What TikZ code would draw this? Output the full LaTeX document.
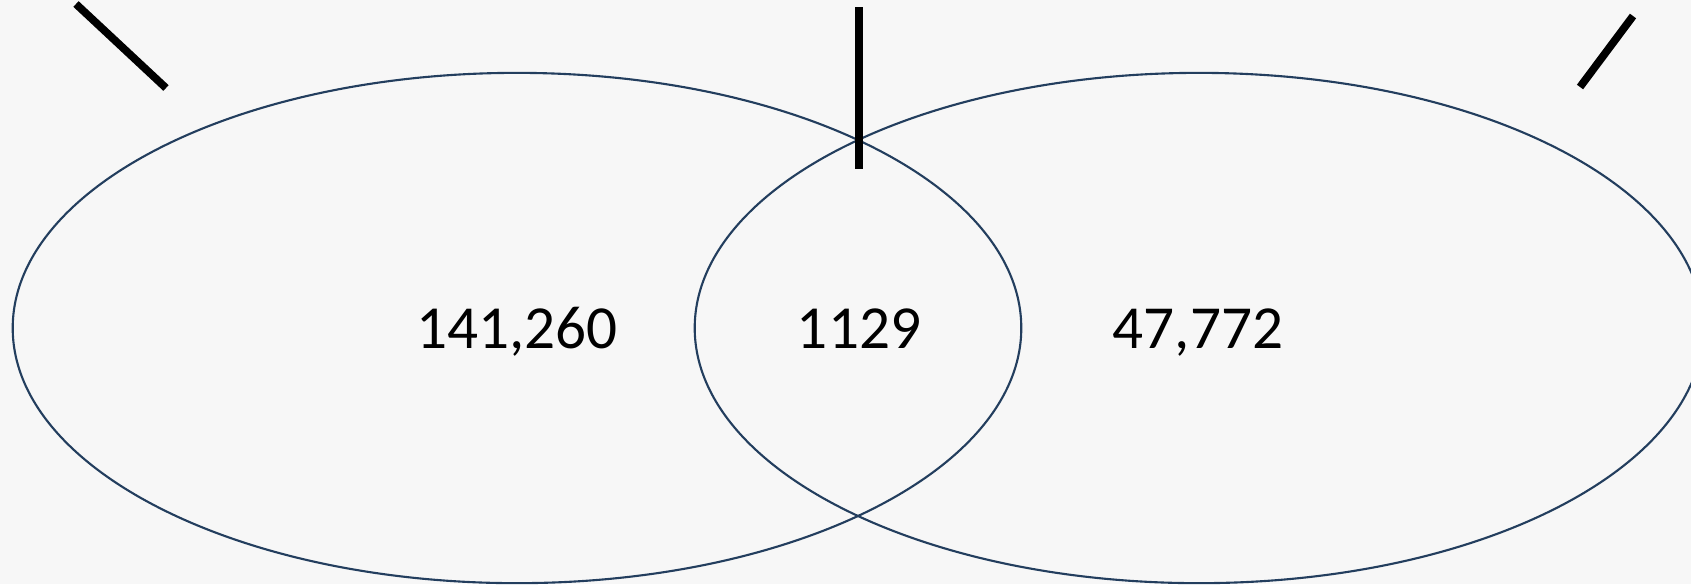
\documentclass[tikz,border=0pt]{standalone}
\usepackage{fontspec}
\setmainfont{Carlito}
\usetikzlibrary{shapes.geometric}
\definecolor{ringblue}{RGB}{35,62,94}
\definecolor{paper}{RGB}{247,247,247}

\begin{document}
\begin{tikzpicture}[
    x=0.01cm, y=-0.01cm,
    set/.style={draw=ringblue, line width=0.6pt, ellipse, inner sep=0pt, outer sep=0pt, minimum width=10.08cm, minimum height=5.1cm},
    count/.style={anchor=base, inner sep=0pt, font=\fontsize{17.4}{20}\selectfont},
    tick/.style={line width=2.2pt, black}
  ]
    \useasboundingbox (0,0) rectangle (1691,584);
    \clip (0,0) rectangle (1691,584);
    \fill[paper] (0,0) rectangle (1691,584);

    \node[set] (leftset) at (517,328) {};
    \node[set] (rightset) at (1199,328) {};

    \node[count] (onlyleft) at (517,348) {141,260};
    \node[count] (both) at (859,348) {1129};
    \node[count] (onlyright) at (1198,348) {47,772};

    % marks above the sets
    \coordinate (tlA) at (76,4);
    \coordinate (tlB) at (166,88);
    \coordinate (tmA) at (859,7);
    \coordinate (tmB) at (859,169);
    \coordinate (trA) at (1633,16);
    \coordinate (trB) at (1580,87);
    \draw[tick] (tlA) -- (tlB);
    \draw[tick] (tmA) -- (tmB);
    \draw[tick] (trA) -- (trB);
  \end{tikzpicture}
\end{document}
